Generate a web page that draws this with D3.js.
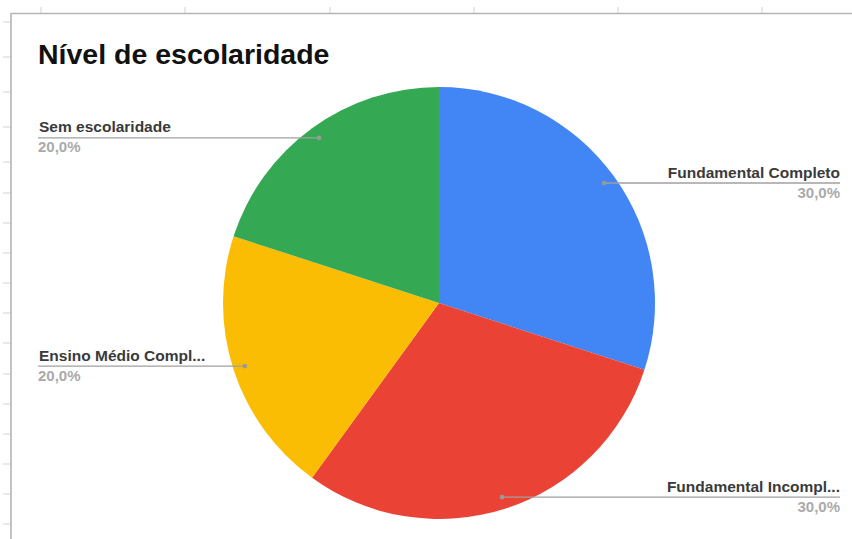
<!DOCTYPE html>
<html><head><meta charset="utf-8">
<script src="https://cdn.jsdelivr.net/npm/d3@7"></script>
<style>body{margin:0;background:#fff;}svg{display:block;}</style>
</head><body>
<svg id="c" width="852" height="539"></svg>
<script>
const categories = ["Fundamental Completo", "Fundamental Incompleto", "Ensino Médio Completo", "Sem escolaridade"];
const shortLabels = ["Fundamental Completo", "Fundamental Incompl...", "Ensino Médio Compl...", "Sem escolaridade"];
const values = [30, 30, 20, 20];
const colors = ["#4285F4", "#EA4335", "#FBBC04", "#34A853"];
const title = "Nível de escolaridade";
const gridRowTicks = [22, 57, 92, 127, 162, 193, 223, 253, 283, 313, 343, 374, 404, 434, 464, 494, 524];
const gridColTicks = [41, 185, 330, 474, 618, 762];

const svg = d3.select("#c");
const W = 852, H = 539;

// spreadsheet frame
const g0 = svg.append("g");
g0.selectAll("line.rt").data(gridRowTicks).join("line")
  .attr("x1", 3).attr("x2", 11).attr("y1", d => d).attr("y2", d => d)
  .attr("stroke", "#d4d4d4").attr("stroke-width", 1);
g0.selectAll("line.ct").data(gridColTicks).join("line")
  .attr("x1", d => d).attr("x2", d => d).attr("y1", 7).attr("y2", 13)
  .attr("stroke", "#d4d4d4").attr("stroke-width", 1);
g0.append("line").attr("x1", 11).attr("x2", 11).attr("y1", 13).attr("y2", H).attr("stroke", "#b5b5b5").attr("stroke-width", 1.6);
g0.append("line").attr("x1", 11).attr("x2", W).attr("y1", 13.5).attr("y2", 13.5).attr("stroke", "#b5b5b5").attr("stroke-width", 1.6);

// title
svg.append("text").attr("x", 38).attr("y", 64).text(title)
  .attr("font-family", "Liberation Sans, Arial, sans-serif").attr("font-weight", "bold")
  .attr("font-size", 28.5).attr("fill", "#111");

// pie
const cx = 439, cy = 303, r = 216;
const pie = d3.pie().sort(null).value(d => d)(values);
const arc = d3.arc().innerRadius(0).outerRadius(r);
const gp = svg.append("g").attr("transform", `translate(${cx},${cy})`);
gp.selectAll("path").data(pie).join("path").attr("d", arc).attr("fill", (d, i) => colors[i]);

// labels
const dotArc = d3.arc().innerRadius(r * 0.945).outerRadius(r * 0.945);
const total = d3.sum(values);
const fmt = v => (v / total * 100).toFixed(1).replace(".", ",") + "%";
pie.forEach((d, i) => {
  const [dx, dy] = dotArc.centroid(d);
  const px = cx + dx, py = cy + dy;
  const right = px > cx;
  const ex = right ? 840 : 38;
  svg.append("line").attr("x1", px).attr("x2", ex).attr("y1", py).attr("y2", py)
    .attr("stroke", "#a0a0a0").attr("stroke-width", 1.4);
  svg.append("circle").attr("cx", px).attr("cy", py).attr("r", 2.3).attr("fill", "#999");
  svg.append("text").attr("x", right ? 840 : 39).attr("y", py - 5.5)
    .attr("text-anchor", right ? "end" : "start")
    .attr("font-family", "Liberation Sans, Arial, sans-serif").attr("font-weight", "bold")
    .attr("font-size", 15.5).attr("fill", "#3a3a3a").text(shortLabels[i]);
  svg.append("text").attr("x", right ? 840 : 38).attr("y", py + 14.5)
    .attr("text-anchor", right ? "end" : "start")
    .attr("font-family", "Liberation Sans, Arial, sans-serif").attr("font-weight", "bold")
    .attr("font-size", 15).attr("fill", "#aaa").text(fmt(values[i]));
});
</script>
</body></html>
